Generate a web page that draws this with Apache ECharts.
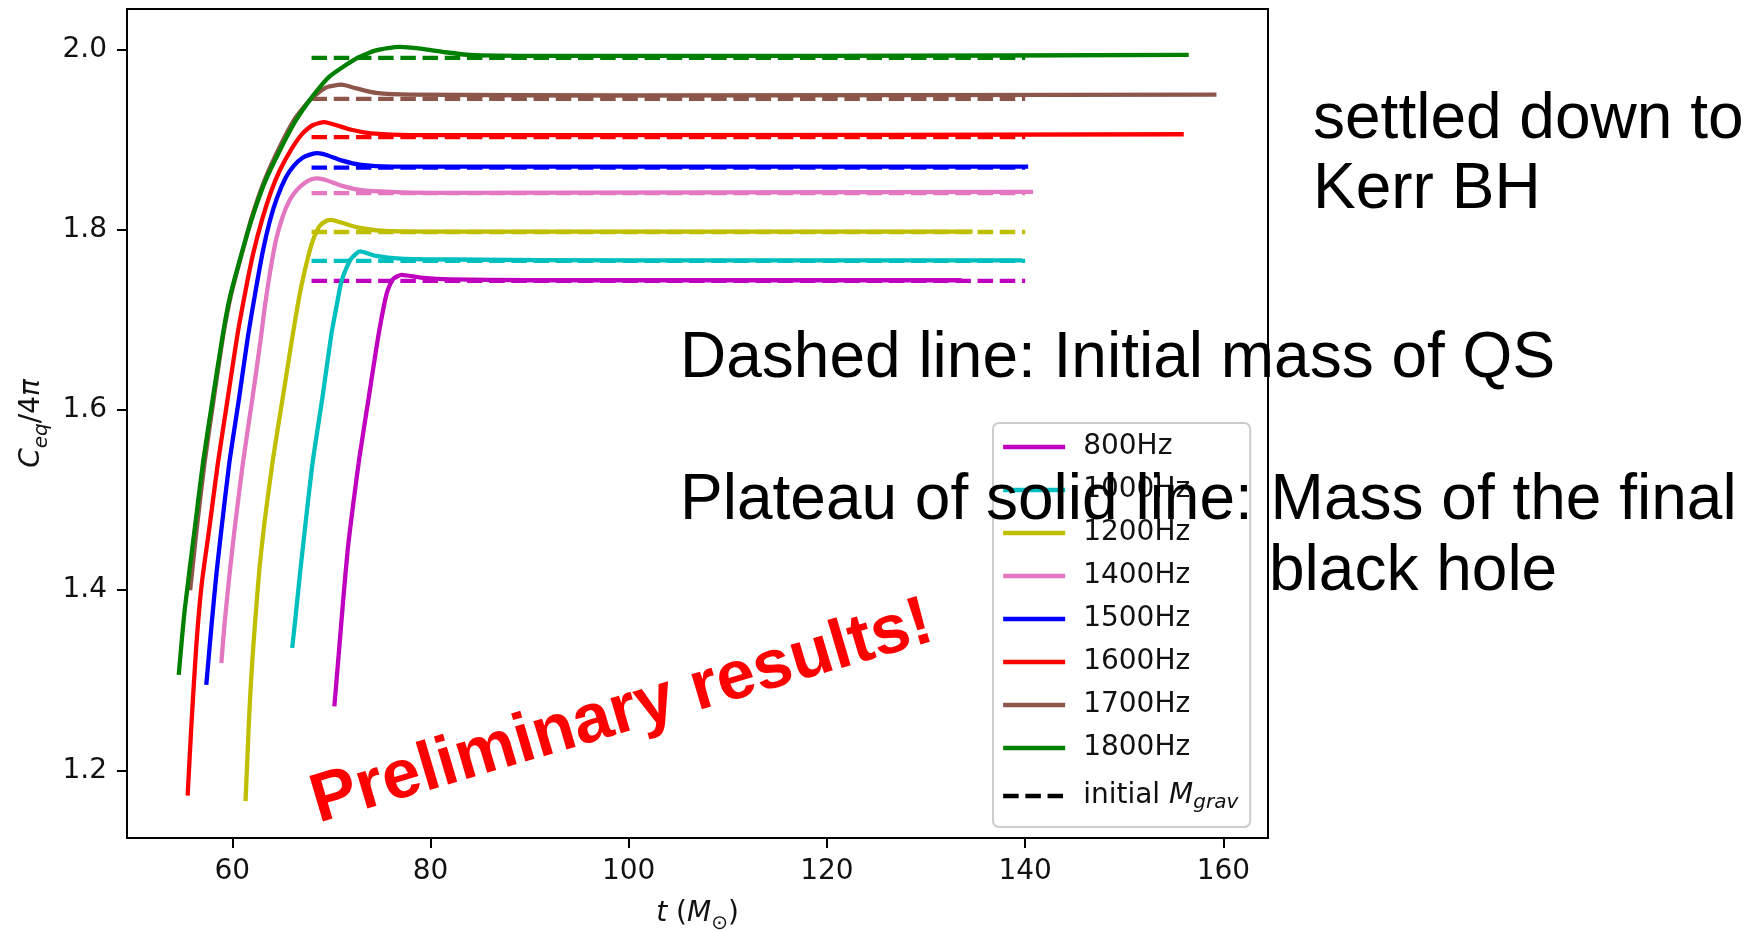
<!DOCTYPE html>
<html>
<head>
<meta charset="utf-8">
<script src="https://cdn.jsdelivr.net/npm/echarts@6/dist/echarts.min.js"></script>
<style>
  html, body { margin: 0; padding: 0; background: #ffffff; }
  #chart { width: 1763px; height: 930px; }
</style>
</head>
<body>
<div id="chart"></div>
<script>
// Tick values of both axes
const xTicks = [60, 80, 100, 120, 140, 160];
const yTicks = [1.2, 1.4, 1.6, 1.8, 2.0];

// Rotation frequency of each run
const freqLabels = ['800Hz', '1000Hz', '1200Hz', '1400Hz', '1500Hz', '1600Hz', '1700Hz', '1800Hz'];

// Initial gravitational mass of each quark star (dashed reference levels)
const initialMass = [1.7432, 1.7654, 1.7975, 1.8406, 1.8690, 1.9029, 1.9453, 1.9907];
const initialSpan = [68, 140];

// C_eq/4pi against t for each run: [t, C_eq/4pi]
const c800 = [[70.3,1.271],[70.75,1.330],[71.2,1.390],[71.65,1.445],[72.2,1.495],[72.8,1.545],[73.8,1.616],[74.8,1.686],[75.6,1.730],[76.2,1.745],[77.1,1.750],[79,1.747],[82,1.745],[90,1.744],[110,1.744],[133.6,1.744]];
const c1000 = [[66.05,1.336],[66.4,1.372],[66.85,1.420],[67.3,1.465],[68.1,1.541],[69.1,1.614],[70.0,1.684],[70.5,1.714],[71.0,1.742],[71.5,1.757],[72.0,1.768],[72.9,1.776],[74.5,1.771],[77,1.768],[82,1.767],[100,1.766],[139.7,1.766]];
const c1200 = [[61.34,1.166],[61.55,1.220],[61.74,1.268],[62.0,1.318],[62.3,1.364],[62.75,1.425],[63.25,1.475],[64.1,1.545],[65.1,1.614],[66.05,1.680],[66.8,1.728],[67.5,1.763],[68.1,1.787],[68.8,1.804],[69.5,1.810],[69.97,1.811],[71,1.808],[72.5,1.803],[75,1.799],[80,1.798],[134.7,1.798]];
const c1400 = [[58.9,1.319],[59.2,1.360],[59.7,1.415],[60.23,1.467],[61.07,1.541],[62.05,1.614],[62.85,1.677],[63.3,1.716],[63.8,1.752],[64.4,1.788],[65.1,1.815],[65.8,1.833],[66.5,1.844],[67.3,1.852],[68.0,1.856],[68.6,1.857],[69.5,1.855],[71,1.849],[73,1.844],[76,1.842],[80,1.841],[140.8,1.842]];
const c1500 = [[57.38,1.295],[57.9,1.360],[58.4,1.418],[58.9,1.467],[59.7,1.541],[60.7,1.614],[61.6,1.683],[62.4,1.735],[63.1,1.777],[63.8,1.810],[64.5,1.835],[65.4,1.858],[66.2,1.871],[67.1,1.880],[68.0,1.884],[68.6,1.885],[69.5,1.883],[71,1.877],[73,1.872],[76,1.870],[80,1.870],[140.3,1.870]];
const c1600 = [[55.5,1.172],[55.87,1.249],[56.35,1.335],[56.9,1.405],[57.7,1.470],[58.55,1.541],[59.56,1.614],[60.5,1.682],[61.3,1.730],[62.1,1.773],[63.0,1.811],[63.9,1.842],[64.8,1.866],[66.0,1.890],[67.1,1.907],[68.1,1.916],[69.3,1.9195],[70.5,1.916],[72,1.911],[74,1.907],[78,1.905],[100,1.905],[156,1.906]];
const c1700 = [[55.75,1.400],[56.4,1.467],[57.2,1.541],[58.15,1.614],[59.1,1.684],[59.9,1.729],[61.0,1.775],[62.0,1.815],[63.3,1.856],[64.7,1.890],[66.3,1.923],[68.0,1.946],[69.5,1.958],[71.0,1.961],[72.5,1.957],[74.5,1.952],[78,1.950],[100,1.949],[159.3,1.950]];
const c1800 = [[54.6,1.306],[55.2,1.378],[56.2,1.467],[57.04,1.541],[58.05,1.614],[59.05,1.684],[59.8,1.727],[60.9,1.772],[62.0,1.813],[63.3,1.853],[64.8,1.888],[66.4,1.921],[68.1,1.948],[69.8,1.970],[72.5,1.990],[74.5,1.999],[76.9,2.003],[79,2.001],[81.5,1.997],[84,1.994],[90,1.993],[120,1.993],[156.5,1.994]];

const curves = [c800, c1000, c1200, c1400, c1500, c1600, c1700, c1800];
const lineColors = ['#bf00bf', '#00bfbf', '#bfbf00', '#e377c2', '#0000ff', '#ff0000', '#8c564b', '#008000'];
const initialName = 'initial Mgrav';
const dashPattern = [15.5, 6.7];
const lineWidth = 4.3;

const tickFont = 'DejaVu Sans';
const noteFont = 'Liberation Sans';

const series = [];
curves.forEach((pts, i) => {
  series.push({
    name: freqLabels[i],
    type: 'line',
    data: pts,
    symbol: 'none',
    smooth: 0.2,
    lineStyle: { color: lineColors[i], width: lineWidth, cap: 'butt', join: 'round' },
    itemStyle: { color: lineColors[i] },
    emphasis: { disabled: true },
    silent: true
  });
  series.push({
    name: initialName,
    type: 'line',
    data: [[initialSpan[0], initialMass[i]], [initialSpan[1], initialMass[i]]],
    symbol: 'none',
    lineStyle: { color: lineColors[i], width: lineWidth, type: dashPattern },
    itemStyle: { color: lineColors[i] },
    emphasis: { disabled: true },
    silent: true
  });
});

const legendData = freqLabels.map(n => ({ name: n }));
legendData.push({
  name: initialName,
  lineStyle: { color: '#000000', type: dashPattern, width: lineWidth }
});

const option = {
  animation: false,
  backgroundColor: '#ffffff',
  grid: {
    left: 127, top: 9, width: 1141, height: 829,
    containLabel: false,
    outerBoundsMode: 'none',
    show: true, borderColor: '#000000', borderWidth: 2,
    backgroundColor: 'transparent'
  },
  xAxis: {
    type: 'value',
    min: 49.38, max: 164.5,
    axisLine: { show: true, lineStyle: { color: '#000000', width: 2 } },
    axisTick: { show: true, length: 10, lineStyle: { color: '#000000', width: 2 }, customValues: xTicks },
    axisLabel: { customValues: xTicks, margin: 20, fontFamily: tickFont, fontSize: 28, color: '#111111' },
    splitLine: { show: false },
    name: '{i|t} ({i|M}{s|⊙})',
    nameLocation: 'middle',
    nameGap: 56,
    nameTextStyle: {
      fontFamily: tickFont, fontSize: 28, color: '#111111',
      rich: {
        i: { fontFamily: tickFont, fontStyle: 'italic', fontSize: 28, lineHeight: 40 },
        s: { fontFamily: tickFont, fontSize: 20, lineHeight: 20, padding: [18, 0, 0, 0], verticalAlign: 'bottom' }
      }
    }
  },
  yAxis: {
    type: 'value',
    min: 1.125, max: 2.045,
    axisLine: { show: true, lineStyle: { color: '#000000', width: 2 } },
    axisTick: { show: true, length: 10, lineStyle: { color: '#000000', width: 2 }, customValues: yTicks },
    axisLabel: { customValues: yTicks, margin: 20, fontFamily: tickFont, fontSize: 28, color: '#111111',
      formatter: v => v.toFixed(1) },
    splitLine: { show: false },
    name: '{i|C}{s|eq}{n|/4}{i|π}',
    nameLocation: 'middle',
    nameRotate: 90,
    nameGap: 71,
    nameTextStyle: {
      fontFamily: tickFont, fontSize: 28, color: '#111111',
      rich: {
        i: { fontFamily: tickFont, fontStyle: 'italic', fontSize: 28, lineHeight: 40 },
        n: { fontFamily: tickFont, fontSize: 28, lineHeight: 40 },
        s: { fontFamily: tickFont, fontStyle: 'italic', fontSize: 20, lineHeight: 20, padding: [18, 0, 0, 0], verticalAlign: 'bottom' }
      }
    }
  },
  legend: {
    orient: 'vertical',
    left: 993, top: 423,
    itemWidth: 62, itemHeight: 28, itemGap: 15,
    padding: [10, 12, 14, 8],
    backgroundColor: 'rgba(255,255,255,0.8)',
    borderColor: '#cccccc', borderWidth: 2, borderRadius: 6,
    selectedMode: false,
    itemStyle: { opacity: 0 },
    lineStyle: { width: lineWidth },
    data: legendData,
    formatter: name => name === initialName ? '{n|initial }{i|M}{s|grav}' : name,
    textStyle: {
      fontFamily: tickFont, fontSize: 28, lineHeight: 28, color: '#111111', padding: [0, 0, 0, 13],
      rich: {
        n: { fontFamily: tickFont, fontSize: 28, lineHeight: 34 },
        i: { fontFamily: tickFont, fontStyle: 'italic', fontSize: 28, lineHeight: 34 },
        s: { fontFamily: tickFont, fontStyle: 'italic', fontSize: 20, lineHeight: 20, padding: [16, 0, 0, 0], verticalAlign: 'bottom' }
      }
    }
  },
  graphic: [
    { type: 'text', z: 100, x: 1313, y: 120,
      style: { text: 'settled down to', fontFamily: noteFont, fontSize: 64, fill: '#000000', align: 'left', verticalAlign: 'middle' } },
    { type: 'text', z: 100, x: 1313, y: 190,
      style: { text: 'Kerr BH', fontFamily: noteFont, fontSize: 64, fill: '#000000', align: 'left', verticalAlign: 'middle' } },
    { type: 'text', z: 100, x: 680, y: 359,
      style: { text: 'Dashed line: Initial mass of QS', fontFamily: noteFont, fontSize: 64, fill: '#000000', align: 'left', verticalAlign: 'middle' } },
    { type: 'text', z: 100, x: 680, y: 501,
      style: { text: 'Plateau of solid line: Mass of the final', fontFamily: noteFont, fontSize: 64, fill: '#000000', align: 'left', verticalAlign: 'middle' } },
    { type: 'text', z: 100, x: 1269, y: 572,
      style: { text: 'black hole', fontFamily: noteFont, fontSize: 64, fill: '#000000', align: 'left', verticalAlign: 'middle' } },
    { type: 'text', z: 100, x: 622, y: 713, rotation: 16.5 * Math.PI / 180,
      style: { text: 'Preliminary results!', fontFamily: noteFont, fontWeight: 'bold', fontSize: 69, fill: '#ff0000', align: 'center', verticalAlign: 'middle' } }
  ],
  series: series
};

const chart = echarts.init(document.getElementById('chart'), null, { renderer: 'canvas' });
chart.setOption(option);
</script>
</body>
</html>
